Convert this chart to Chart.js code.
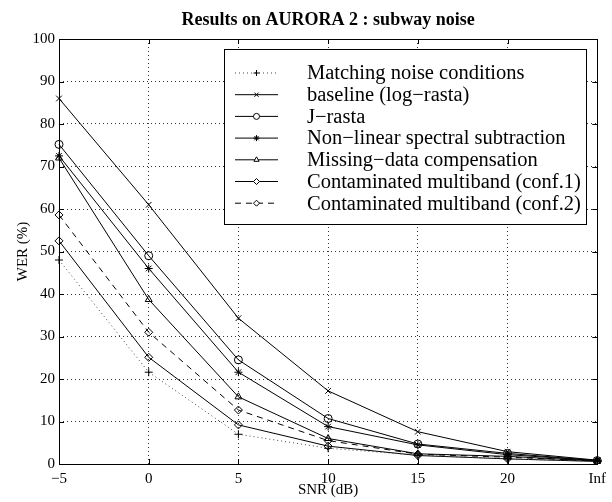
<!DOCTYPE html>
<html>
<head>
<meta charset="utf-8">
<script src="https://cdn.jsdelivr.net/npm/chart.js"></script>
<style>
  body { margin: 0; background: #fff; }
  #wrap { width: 612px; height: 502px; }
</style>
</head>
<body>
<div id="wrap"><canvas id="werChart"></canvas></div>
<script>
// SNR conditions (x categories)
const snrLabels = ['\u22125', '0', '5', '10', '15', '20', 'Inf'];
const yTicks = [0, 10, 20, 30, 40, 50, 60, 70, 80, 90, 100];

// WER (%) per method
const matching = [48, 21.6, 7.0, 3.7, 2.1, 1.2, 0.6];
const baseline = [86, 61, 34.3, 17.2, 7.6, 2.9, 0.9];
const jrasta   = [75.2, 49, 24.5, 10.7, 4.7, 2.5, 0.8];
const nlss     = [72.5, 46, 21.6, 8.8, 4.5, 2.2, 0.8];
const missing  = [72, 38.7, 15.8, 6.0, 2.4, 1.8, 0.7];
const conf1    = [52.5, 25.1, 9.2, 4.2, 2.0, 1.2, 0.6];
const conf2    = [58.6, 31, 12.7, 5.5, 2.3, 1.6, 0.7];

const FONT = "'Liberation Serif', 'Times New Roman', serif";

function series(label, data, style, opts) {
    return Object.assign({
        label: label,
        data: data,
        borderColor: '#000',
        borderWidth: 1,
        pointStyle: style,
        pointRadius: 4,
        pointBorderWidth: 1,
        pointBorderColor: '#000',
        pointBackgroundColor: 'rgba(0,0,0,0)',
        fill: false,
        tension: 0
    }, opts || {});
}

// frame, inward ticks, title and MATLAB-like legend
const decorations = {
    id: 'decorations',
    afterDraw(chart) {
        const { ctx, chartArea: a, scales: { x, y } } = chart;
        ctx.save();
        ctx.strokeStyle = '#000';
        ctx.lineWidth = 1;
        ctx.setLineDash([]);
        ctx.strokeRect(Math.round(a.left) + 0.5, Math.round(a.top) + 0.5,
            Math.round(a.right - a.left), Math.round(a.bottom - a.top));

        // inward tick marks
        ctx.beginPath();
        x.ticks.forEach((t, i) => {
            const px = Math.round(x.getPixelForTick(i)) + 0.5;
            ctx.moveTo(px, a.bottom); ctx.lineTo(px, a.bottom - 5);
            ctx.moveTo(px, a.top); ctx.lineTo(px, a.top + 5);
        });
        y.ticks.forEach((t, i) => {
            const py = Math.round(y.getPixelForTick(i)) + 0.5;
            ctx.moveTo(a.left, py); ctx.lineTo(a.left + 5, py);
            ctx.moveTo(a.right, py); ctx.lineTo(a.right - 5, py);
        });
        ctx.stroke();

        // title
        ctx.fillStyle = '#000';
        ctx.font = 'bold 18px ' + FONT;
        ctx.textAlign = 'center';
        ctx.textBaseline = 'middle';
        ctx.fillText('Results on AURORA 2 : subway noise', (a.left + a.right) / 2, 20);

        // legend
        const bx = 224, by = 49, bw = 362, bh = 175;
        ctx.fillStyle = '#fff';
        ctx.fillRect(bx, by, bw, bh);
        ctx.strokeRect(bx + 0.5, by + 0.5, bw, bh);
        ctx.font = '20.5px ' + FONT;
        ctx.textAlign = 'left';
        chart.data.datasets.forEach((ds, i) => {
            const ry = 73 + i * 21.7;
            ctx.strokeStyle = ds.borderColor;
            ctx.setLineDash(ds.borderDash || []);
            ctx.beginPath();
            ctx.moveTo(235, ry); ctx.lineTo(278, ry);
            ctx.stroke();
            ctx.setLineDash([]);
            ctx.strokeStyle = '#000';
            ctx.fillStyle = '#fff';
            Chart.helpers.drawPoint(ctx, {
                pointStyle: ds.pointStyle, radius: 3, rotation: 0, borderWidth: 1
            }, 256.5, ry);
            ctx.fillStyle = '#000';
            ctx.fillText(ds.label, 307, ry + 1);
        });
        ctx.restore();
    }
};

new Chart(document.getElementById('werChart'), {
    type: 'line',
    data: {
        labels: snrLabels,
        datasets: [
            series('Matching noise conditions', matching, 'cross', { borderColor: '#444', borderDash: [1, 3] }),
            series('baseline (log\u2212rasta)', baseline, 'crossRot'),
            series('J\u2212rasta', jrasta, 'circle'),
            series('Non\u2212linear spectral subtraction', nlss, 'star'),
            series('Missing\u2212data compensation', missing, 'triangle'),
            series('Contaminated multiband (conf.1)', conf1, 'rectRot'),
            series('Contaminated multiband (conf.2)', conf2, 'rectRot', { borderDash: [6, 5] })
        ]
    },
    options: {
        responsive: true,
        maintainAspectRatio: false,
        animation: false,
        layout: { padding: { top: 39, right: 13, left: 0, bottom: 0 } },
        plugins: { legend: { display: false }, tooltip: { enabled: false } },
        scales: {
            x: {
                type: 'category',
                offset: false,
                afterFit: s => { s.height = 38; },
                grid: { color: '#000', lineWidth: 0.8, drawTicks: false },
                border: { display: false, dash: [1, 3] },
                ticks: { color: '#000', padding: 6, maxRotation: 0, font: { family: FONT, size: 15 } },
                title: { display: true, text: 'SNR (dB)', color: '#000', padding: { top: 0, bottom: 3 }, font: { family: FONT, size: 15 } }
            },
            y: {
                min: 0,
                max: 100,
                afterFit: s => { s.width = 59; },
                afterBuildTicks: s => { s.ticks = yTicks.map(v => ({ value: v })); },
                grid: { color: '#000', lineWidth: 0.8, drawTicks: false },
                border: { display: false, dash: [1, 3] },
                ticks: { color: '#000', padding: 4, font: { family: FONT, size: 15 } },
                title: { display: true, text: 'WER (%)', color: '#000', padding: { top: 14, bottom: 0 }, font: { family: FONT, size: 15 } }
            }
        }
    },
    plugins: [decorations]
});
</script>
</body>
</html>
